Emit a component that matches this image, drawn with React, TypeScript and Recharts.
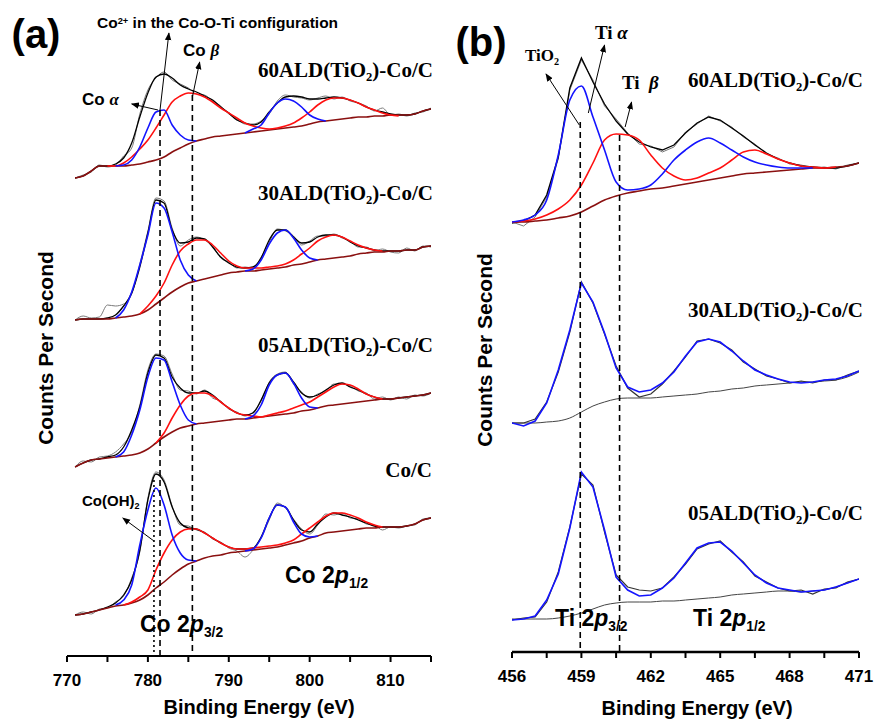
import React from 'react';
import { LineChart, Line, XAxis, YAxis, ReferenceLine } from 'recharts';

// ---- Co 2p panel (a): energies 771..815 eV, 1 eV step ----
const coStart = 771;
const coTicks = [770, 775, 780, 785, 790, 795, 800, 805, 810, 815];

const a60Raw = [478, 481, 484, 491, 489, 491, 500, 508, 542, 566, 578, 584, 576, 572, 568, 562, 561, 555, 550, 542, 537, 532, 532, 535, 542, 555, 561, 559, 558, 556, 558, 560, 557, 559, 555, 553, 550, 545, 548, 541, 542, 540, 543, 544, 548];
const a60Fit = [478, 480, 485, 490, 490, 492, 498, 513, 539, 563, 579, 582, 578, 571, 567, 564, 560, 556, 549, 543, 536, 533, 531, 534, 544, 553, 559, 560, 559, 557, 557, 558, 559, 558, 556, 553, 549, 546, 544, 542, 541, 541, 542, 545, 547];
const a60Bg = [478, 480, 485, 490, 490, 490, 490, 491, 492, 494, 496, 499, 504, 508, 512, 515, 517, 519, 520, 521, 522, 523, 524, 525, 526, 527, 528, 529, 530, 532, 534, 535, 536, 537, 538, 539, 539, 540, 540, 541, 541, 541, 542, 545, 547];
const a60Blue32 = [490, 491, 496, 509, 528, 544, 546, 531, 521, 516, 515]; // from 776
const a60Blue12 = [523, 527, 531, 543, 553, 557, 555, 549, 541, 537, 535]; // from 792
const a60Red = [490, 490, 493, 499, 507, 516, 528, 541, 554, 560, 563, 562, 559, 554, 548, 543, 538, 533, 530, 528, 527, 528, 530, 533, 538, 544, 551, 556, 558, 558, 556, 553, 549, 546, 543, 541, 540]; // from 775

const a30Raw = [336, 340, 338, 339, 351, 350, 352, 362, 392, 425, 458, 455, 428, 410, 416, 419, 416, 410, 398, 394, 388, 389, 388, 399, 414, 427, 425, 420, 411, 415, 420, 420, 422, 418, 415, 409, 409, 405, 407, 404, 403, 408, 405, 410, 409];
const a30Fit = [336, 337, 337, 337, 338, 341, 350, 363, 389, 423, 456, 453, 426, 413, 414, 418, 417, 409, 399, 393, 389, 388, 389, 398, 416, 426, 426, 419, 413, 414, 419, 421, 421, 419, 414, 410, 408, 406, 405, 405, 405, 406, 406, 409, 410];
const a30Bg = [336, 337, 337, 337, 337, 338, 339, 340, 342, 346, 352, 358, 364, 369, 373, 375, 377, 379, 381, 383, 384, 385, 385, 386, 387, 388, 389, 391, 392, 394, 396, 397, 398, 399, 400, 402, 403, 404, 404, 405, 405, 406, 406, 409, 410];
const a30Blue32 = [338, 346, 364, 391, 421, 453, 448, 424, 396, 381, 375]; // from 776
const a30Blue12 = [385, 387, 396, 412, 423, 426, 418, 406, 398, 396]; // from 792
const a30Red = [342, 350, 360, 373, 391, 405, 412, 416, 416, 411, 403, 395, 390, 388, 388, 388, 389, 390, 392, 396, 402, 408, 415, 419, 421, 419, 415, 411, 408, 406, 405]; // from 779

const a05Raw = [189, 195, 194, 199, 200, 204, 212, 224, 251, 286, 302, 300, 282, 266, 265, 262, 266, 258, 255, 247, 244, 240, 244, 255, 274, 282, 284, 272, 264, 258, 262, 265, 272, 272, 270, 265, 263, 257, 259, 256, 259, 257, 261, 260, 263];
const a05Fit = [189, 193, 196, 197, 199, 201, 209, 226, 249, 283, 301, 298, 279, 268, 263, 263, 265, 261, 254, 248, 243, 241, 243, 256, 273, 281, 283, 274, 263, 259, 261, 266, 271, 273, 269, 266, 262, 259, 257, 257, 258, 259, 260, 261, 263];
const a05Bg = [189, 193, 196, 197, 198, 199, 200, 201, 203, 207, 213, 219, 224, 228, 230, 232, 233, 234, 235, 236, 237, 237, 238, 239, 240, 241, 242, 243, 245, 246, 248, 250, 251, 252, 253, 254, 255, 256, 257, 257, 258, 259, 260, 261, 263];
const a05Blue32 = [199, 204, 221, 246, 279, 298, 296, 274, 251, 236, 232]; // from 776
const a05Blue12 = [237, 240, 251, 271, 281, 283, 273, 258, 249, 248]; // from 792
const a05Red = [213, 223, 238, 251, 260, 263, 263, 260, 254, 248, 243, 241, 240, 239, 241, 243, 245, 248, 251, 254, 259, 264, 269, 272, 271, 267, 262, 259, 257]; // from 781

const cocRaw = [41, 44, 42, 47, 48, 54, 60, 78, 104, 158, 184, 176, 150, 131, 130, 126, 124, 117, 114, 108, 105, 99, 106, 118, 136, 153, 148, 137, 127, 122, 131, 142, 141, 143, 138, 137, 132, 131, 126, 129, 128, 130, 131, 137, 138];
const cocFit = [41, 42, 44, 46, 49, 53, 61, 76, 106, 156, 182, 174, 149, 133, 128, 127, 123, 118, 113, 109, 107, 107, 108, 119, 138, 151, 149, 136, 126, 124, 132, 139, 143, 141, 139, 136, 133, 130, 129, 129, 129, 130, 132, 136, 138];
const cocBg = [41, 42, 44, 46, 48, 50, 51, 53, 56, 61, 68, 74, 81, 87, 92, 95, 98, 100, 101, 103, 104, 105, 106, 107, 108, 109, 111, 113, 115, 118, 120, 123, 124, 125, 126, 127, 128, 128, 129, 129, 129, 130, 132, 136, 138];
const cocBlue32 = [51, 56, 71, 111, 146, 168, 151, 121, 103, 96, 95]; // from 776
const cocBlue12 = [105, 107, 118, 138, 151, 149, 134, 122, 119, 120]; // from 792
const cocRed = [51, 54, 59, 66, 86, 103, 116, 124, 127, 127, 123, 118, 113, 109, 107, 107, 108, 109, 110, 111, 113, 116, 122, 128, 134, 140, 143, 143, 141, 138, 134, 131, 129]; // from 777

// ---- Ti 2p panel (b): energies 456..471 eV, 0.5 eV step ----
const tiStart = 456;
const tiTicks = [456, 457.5, 459, 460.5, 462, 463.5, 465, 466.5, 468, 469.5, 471];

const b60Raw = [430, 426, 435, 455, 493, 562, 592, 572, 546, 533, 519, 508, 506, 500, 505, 520, 528, 536, 531, 525, 515, 508, 498, 494, 488, 487, 484, 485, 483, 487, 489];
const b60Fit = [429, 431, 437, 457, 495, 564, 594, 570, 548, 531, 518, 510, 505, 502, 507, 519, 529, 535, 532, 524, 516, 507, 499, 493, 489, 486, 485, 484, 484, 486, 489];
const b60Bg = [430, 430, 431, 432, 434, 436, 440, 446, 452, 456, 459, 461, 463, 464, 466, 468, 470, 472, 474, 476, 478, 479, 480, 481, 482, 483, 484, 484, 485, 486, 489];
const b60Blue = [430, 432, 437, 452, 497, 552, 566, 535, 502, 470, 462, 463, 467, 478, 492, 502, 510, 514, 509, 502, 495, 490, 487, 485, 484, 484, 484];
const b60Red = [430, 431, 433, 437, 443, 452, 467, 489, 512, 518, 517, 512, 497, 484, 476, 472, 474, 479, 484, 492, 500, 502, 498, 493, 489, 486, 485, 484, 485];

const b30Raw = [229, 229, 233, 250, 280, 320, 370, 349, 318, 286, 264, 255, 258, 268, 281, 295, 311, 313, 309, 302, 290, 283, 276, 273, 269, 271, 269, 272, 272, 277, 281];
const b30Fit = [229, 226, 231, 249, 282, 322, 369, 350, 319, 284, 265, 260, 262, 269, 280, 296, 310, 313, 310, 301, 291, 282, 277, 273, 270, 269, 270, 272, 273, 276, 281];
const b30Bg = [229, 229, 229, 230, 231, 234, 240, 246, 250, 253, 254, 254, 254, 255, 256, 257, 258, 260, 261, 263, 264, 266, 267, 268, 269, 270, 270, 271, 272, 275, 280];

const b05Raw = [32, 34, 35, 50, 80, 125, 178, 167, 120, 77, 65, 62, 61, 64, 75, 88, 103, 108, 111, 100, 90, 76, 70, 64, 61, 62, 58, 63, 64, 70, 73];
const b05Fit = [32, 33, 36, 52, 78, 124, 180, 165, 122, 75, 62, 56, 57, 64, 74, 89, 104, 109, 110, 101, 89, 77, 69, 64, 62, 60, 61, 62, 65, 69, 73];
const b05Bg = [33, 33, 33, 33, 34, 36, 39, 43, 47, 49, 50, 50, 50, 51, 51, 52, 53, 54, 55, 57, 58, 59, 60, 61, 61, 60, 61, 62, 65, 69, 73];

const GRAY = '#7a7a7a';
const BLACK = '#000';
const BLUE = '#1414ff';
const RED = '#ff1010';
const BG_RED = '#8a1010';
const SANS = '"Liberation Sans", Arial, sans-serif';
const SERIF = '"Liberation Serif", "Times New Roman", serif';

const pts = (start: number, step: number, vals: number[]) =>
  vals.map((v, i) => ({ e: start + i * step, v }));

interface Series {
  id: string;
  data: { e: number; v: number }[];
  color: string;
  w: number;
  linear?: boolean;
}

const coSeries: Series[] = [
  [a60Raw, a60Fit, a60Bg, a60Blue32, a60Blue12, a60Red, 775],
  [a30Raw, a30Fit, a30Bg, a30Blue32, a30Blue12, a30Red, 779],
  [a05Raw, a05Fit, a05Bg, a05Blue32, a05Blue12, a05Red, 781],
  [cocRaw, cocFit, cocBg, cocBlue32, cocBlue12, cocRed, 777],
].flatMap((s, k) => {
  const [raw, fit, bg, b32, b12, red, redStart] = s as [number[], number[], number[], number[], number[], number[], number];
  return [
    { id: `a${k}raw`, data: pts(coStart, 1, raw), color: GRAY, w: 1 },
    { id: `a${k}fit`, data: pts(coStart, 1, fit), color: BLACK, w: 1.3 },
    { id: `a${k}bg`, data: pts(coStart, 1, bg), color: BG_RED, w: 1.6 },
    { id: `a${k}red`, data: pts(redStart, 1, red), color: RED, w: 1.6 },
    { id: `a${k}b32`, data: pts(776, 1, b32), color: BLUE, w: 1.6 },
    { id: `a${k}b12`, data: pts(792, 1, b12), color: BLUE, w: 1.6 },
  ];
});

const tiSeries: Series[] = [
  { id: 'b60raw', data: pts(tiStart, 0.5, b60Raw), color: GRAY, w: 1, linear: true },
  { id: 'b60fit', data: pts(tiStart, 0.5, b60Fit), color: BLACK, w: 1.3, linear: true },
  { id: 'b60bg', data: pts(tiStart, 0.5, b60Bg), color: BG_RED, w: 1.6 },
  { id: 'b60red', data: pts(tiStart, 0.5, b60Red), color: RED, w: 1.6 },
  { id: 'b60blue', data: pts(tiStart, 0.5, b60Blue), color: BLUE, w: 1.6 },
  { id: 'b30bg', data: pts(tiStart, 0.5, b30Bg), color: '#444', w: 1 },
  { id: 'b30raw', data: pts(tiStart, 0.5, b30Raw), color: '#333', w: 1.2, linear: true },
  { id: 'b30fit', data: pts(tiStart, 0.5, b30Fit), color: BLUE, w: 1.6, linear: true },
  { id: 'b05bg', data: pts(tiStart, 0.5, b05Bg), color: '#444', w: 1 },
  { id: 'b05raw', data: pts(tiStart, 0.5, b05Raw), color: '#333', w: 1.2, linear: true },
  { id: 'b05fit', data: pts(tiStart, 0.5, b05Fit), color: BLUE, w: 1.6, linear: true },
];

const drawLines = (list: Series[]) =>
  list.map((s) => (
    <Line
      key={s.id}
      data={s.data}
      dataKey="v"
      type={s.linear ? 'linear' : 'monotone'}
      stroke={s.color}
      strokeWidth={s.w}
      dot={false}
      activeDot={false}
      isAnimationActive={false}
    />
  ));

const tickStyle = { fontSize: 17, fontWeight: 'bold', fill: '#000', fontFamily: SANS };

type Anchor = 'start' | 'middle' | 'end';
const Txt = ({ x, y, anchor = 'start', size, serif, bold = true, rotate, children }: {
  x: number; y: number; anchor?: Anchor; size: number; serif?: boolean; bold?: boolean; rotate?: boolean; children: React.ReactNode;
}) => {
  const tx = anchor === 'start' ? '0' : anchor === 'end' ? '-100%' : '-50%';
  return (
    <div
      style={{
        position: 'absolute', left: x, top: y, whiteSpace: 'nowrap', lineHeight: 1,
        fontSize: size, fontWeight: bold ? 'bold' : 'normal', fontFamily: serif ? SERIF : SANS,
        transform: `translate(${tx}, -50%)${rotate ? ' rotate(-90deg)' : ''}`,
        transformOrigin: 'center',
      }}
    >
      {children}
    </div>
  );
};

const Sub = ({ children }: { children: React.ReactNode }) => (
  <span style={{ fontSize: '0.6em', position: 'relative', top: '0.35em' }}>{children}</span>
);
const Sup = ({ children }: { children: React.ReactNode }) => (
  <span style={{ fontSize: '0.6em', position: 'relative', top: '-0.45em' }}>{children}</span>
);
const Greek = ({ children }: { children: React.ReactNode }) => (
  <span style={{ fontFamily: SERIF, fontStyle: 'italic' }}>{children}</span>
);

const Sample = ({ x, y, n }: { x: number; y: number; n: string }) => (
  <Txt x={x} y={y} anchor="end" size={21} serif>
    {n}ALD(TiO<Sub>2</Sub>)-Co/C
  </Txt>
);

const arrow = { stroke: '#000', strokeWidth: 1, markerEnd: 'url(#arrowHead)' };

export default function App() {
  return (
    <div style={{ position: 'absolute', left: 0, top: 0, width: 875, height: 722, background: '#fff', overflow: 'hidden' }}>
      <svg width={0} height={0} style={{ position: 'absolute' }}>
        <defs>
          <marker id="arrowHead" viewBox="0 0 10 10" refX="9" refY="5" markerWidth="8" markerHeight="8" orient="auto">
            <path d="M0,1 L10,5 L0,9 z" fill="#000" />
          </marker>
        </defs>
      </svg>

      <div style={{ position: 'absolute', left: 0, top: 0 }}>
        <LineChart width={440} height={722} margin={{ top: 31, right: 9, bottom: 26, left: 67 }}>
          <XAxis
            dataKey="e"
            type="number"
            domain={[770, 815]}
            ticks={coTicks}
            allowDataOverflow
            height={40}
            tick={tickStyle}
            tickSize={6}
            tickMargin={12}
            tickFormatter={(v: number) => (v % 10 === 0 ? String(v) : '')}
            axisLine={{ stroke: '#000', strokeWidth: 2 }}
            tickLine={{ stroke: '#000', strokeWidth: 2 }}
          />
          <YAxis type="number" domain={[0, 625]} width={0} tick={false} tickLine={false} axisLine={{ stroke: '#000', strokeWidth: 1.5 }} />
          {drawLines(coSeries)}
          <ReferenceLine segment={[{ x: 781.5, y: 546 }, { x: 781.5, y: 0 }]} stroke="#000" strokeWidth={1.6} strokeDasharray="6 4" />
          <ReferenceLine segment={[{ x: 785.5, y: 561 }, { x: 785.5, y: 0 }]} stroke="#000" strokeWidth={1.6} strokeDasharray="6 4" />
          <ReferenceLine segment={[{ x: 780.75, y: 176 }, { x: 780.75, y: 0 }]} stroke="#000" strokeWidth={1.6} strokeDasharray="2 3" />
          <ReferenceLine segment={[{ x: 781.5, y: 546 }, { x: 782.6, y: 623 }]} {...arrow} />
          <ReferenceLine segment={[{ x: 785.5, y: 559 }, { x: 786.4, y: 594 }]} {...arrow} />
          <ReferenceLine segment={[{ x: 781.25, y: 546 }, { x: 778.0, y: 552 }]} {...arrow} />
          <ReferenceLine segment={[{ x: 780.75, y: 115 }, { x: 776.9, y: 138 }]} {...arrow} />
        </LineChart>
      </div>

      <div style={{ position: 'absolute', left: 440, top: 0 }}>
        <LineChart width={435} height={722} margin={{ top: 15, right: 16, bottom: 30, left: 72 }}>
          <XAxis
            dataKey="e"
            type="number"
            domain={[456, 471]}
            ticks={tiTicks}
            allowDataOverflow
            height={40}
            tick={tickStyle}
            tickSize={6}
            tickMargin={12}
            tickFormatter={(v: number) => (v % 3 === 0 ? String(v) : '')}
            axisLine={{ stroke: '#000', strokeWidth: 2.5 }}
            tickLine={{ stroke: '#000', strokeWidth: 2 }}
          />
          <YAxis type="number" domain={[0, 637]} width={0} tick={false} tickLine={false} axisLine={{ stroke: '#000', strokeWidth: 3 }} />
          {drawLines(tiSeries)}
          <ReferenceLine segment={[{ x: 458.95, y: 530 }, { x: 458.95, y: 0 }]} stroke="#000" strokeWidth={1.6} strokeDasharray="6 4" />
          <ReferenceLine segment={[{ x: 460.65, y: 517 }, { x: 460.65, y: 0 }]} stroke="#000" strokeWidth={1.6} strokeDasharray="6 4" />
          <ReferenceLine segment={[{ x: 458.91, y: 527 }, { x: 457.47, y: 578 }]} {...arrow} />
          <ReferenceLine segment={[{ x: 459.3, y: 539 }, { x: 460.0, y: 607 }]} {...arrow} />
          <ReferenceLine segment={[{ x: 460.89, y: 525 }, { x: 461.17, y: 550 }]} {...arrow} />
        </LineChart>
      </div>

      {/* panel (a) texts */}
      <Txt x={36} y={34} anchor="middle" size={40}>(a)</Txt>
      <Txt x={97} y={23} size={15.5}>Co<Sup>2+</Sup> in the Co-O-Ti configuration</Txt>
      <Txt x={183} y={50} size={17}>Co <Greek>β</Greek></Txt>
      <Txt x={82} y={99} size={17}>Co <Greek>α</Greek></Txt>
      <Sample x={433} y={70} n="60" />
      <Sample x={433} y={193} n="30" />
      <Sample x={433} y={345} n="05" />
      <Txt x={432} y={470} anchor="end" size={21} serif>Co/C</Txt>
      <Txt x={82} y={500} size={15}>Co(OH)<Sub>2</Sub></Txt>
      <Txt x={285} y={575} size={23}>Co 2<i>p</i><Sub>1/2</Sub></Txt>
      <Txt x={140} y={624} size={23}>Co 2<i>p</i><Sub>3/2</Sub></Txt>
      <Txt x={259} y={707} anchor="middle" size={20}>Binding Energy (eV)</Txt>
      <Txt x={45} y={348} anchor="middle" size={21} rotate>Counts Per Second</Txt>

      {/* panel (b) texts */}
      <Txt x={481} y={42} anchor="middle" size={40}>(b)</Txt>
      <Txt x={525} y={55} size={17} serif>TiO<Sub>2</Sub></Txt>
      <Txt x={595} y={32} size={19} serif>Ti <Greek>α</Greek></Txt>
      <Txt x={622} y={82} size={19} serif>Ti&nbsp;&nbsp;<Greek>β</Greek></Txt>
      <Sample x={863} y={80} n="60" />
      <Sample x={863} y={310} n="30" />
      <Sample x={863} y={513} n="05" />
      <Txt x={555} y={618} size={23}>Ti 2<i>p</i><Sub>3/2</Sub></Txt>
      <Txt x={693} y={618} size={23}>Ti 2<i>p</i><Sub>1/2</Sub></Txt>
      <Txt x={697} y={708} anchor="middle" size={20}>Binding Energy (eV)</Txt>
      <Txt x={484} y={350} anchor="middle" size={21} rotate>Counts Per Second</Txt>
    </div>
  );
}
